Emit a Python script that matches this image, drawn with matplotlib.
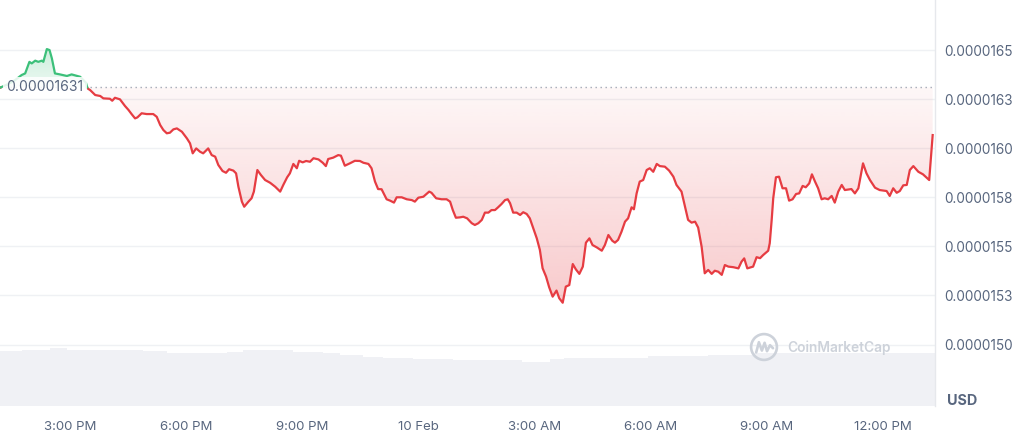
import numpy as np
import matplotlib
matplotlib.use('Agg')
import matplotlib.pyplot as plt
from matplotlib.patches import Polygon, Circle

plt.rcParams['font.family'] = ['Inter', 'DejaVu Sans']

# time in hours counted from 9 Feb 00:00, price in units of 1e-7 USD
hours = [
    13.19, 13.40, 13.58, 13.75, 13.84, 13.95, 14.01, 14.10, 14.18, 14.27,
    14.31, 14.40, 14.47, 14.53, 14.61, 14.74, 14.92, 15.04, 15.26, 15.41,
    15.45, 15.52, 15.65, 15.78, 15.86, 16.03, 16.09, 16.16, 16.29, 16.42,
    16.51, 16.59, 16.68, 16.74, 16.85, 16.98, 17.15, 17.24, 17.33, 17.41,
    17.50, 17.58, 17.67, 17.76, 17.89, 18.02, 18.10, 18.17, 18.26, 18.36,
    18.44, 18.57, 18.66, 18.75, 18.83, 18.94, 19.03, 19.11, 19.22, 19.29,
    19.35, 19.44, 19.50, 19.61, 19.69, 19.75, 19.84, 19.93, 20.04, 20.17,
    20.30, 20.43, 20.51, 20.61, 20.68, 20.77, 20.86, 20.92, 21.01, 21.10,
    21.20, 21.29, 21.42, 21.53, 21.61, 21.67, 21.80, 21.93, 22.00, 22.10,
    22.23, 22.36, 22.49, 22.58, 22.71, 22.79, 22.88, 22.96, 23.05, 23.18,
    23.27, 23.37, 23.44, 23.57, 23.70, 23.83, 23.91, 24.00, 24.13, 24.28,
    24.34, 24.46, 24.60, 24.73, 24.82, 24.89, 24.97, 25.08, 25.16, 25.26,
    25.38, 25.46, 25.55, 25.64, 25.72, 25.81, 25.89, 25.98, 26.06, 26.15,
    26.24, 26.31, 26.37, 26.45, 26.54, 26.63, 26.71, 26.80, 26.88, 26.97,
    27.06, 27.14, 27.21, 27.30, 27.38, 27.47, 27.57, 27.64, 27.73, 27.81,
    27.90, 27.99, 28.07, 28.16, 28.25, 28.33, 28.42, 28.50, 28.61, 28.74,
    28.82, 28.91, 29.01, 29.08, 29.16, 29.25, 29.34, 29.42, 29.51, 29.57,
    29.64, 29.72, 29.81, 29.90, 29.98, 30.07, 30.16, 30.24, 30.37, 30.48,
    30.59, 30.67, 30.80, 30.89, 30.97, 31.06, 31.15, 31.23, 31.32, 31.40,
    31.49, 31.58, 31.66, 31.75, 31.84, 31.92, 32.01, 32.14, 32.27, 32.35,
    32.42, 32.50, 32.65, 32.74, 32.83, 32.91, 33.04, 33.08, 33.13, 33.17,
    33.24, 33.32, 33.41, 33.50, 33.58, 33.67, 33.76, 33.84, 33.93, 34.01,
    34.10, 34.17, 34.25, 34.33, 34.42, 34.50, 34.59, 34.68, 34.76, 34.85,
    34.94, 35.02, 35.19, 35.28, 35.37, 35.49, 35.58, 35.67, 35.80, 35.92,
    36.10, 36.18, 36.27, 36.36, 36.44, 36.53, 36.62, 36.70, 36.79, 36.92,
    37.04, 37.20, 37.29,
]
price_e7 = [
    163.08, 163.27, 163.47, 163.73, 163.81, 164.40, 164.32, 164.46, 164.40, 164.46,
    164.40, 165.05, 165.00, 164.58, 163.81, 163.76, 163.68, 163.76, 163.64, 163.34,
    163.05, 162.96, 162.71, 162.66, 162.54, 162.52, 162.42, 162.57, 162.49, 162.15,
    161.95, 161.74, 161.52, 161.57, 161.78, 161.74, 161.74, 161.60, 161.18, 160.93,
    160.76, 160.79, 160.96, 161.01, 160.84, 160.50, 160.25, 159.74, 159.99, 159.82,
    159.74, 159.99, 159.65, 159.57, 159.15, 158.84, 158.75, 158.93, 158.86, 158.72,
    158.04, 157.28, 157.02, 157.28, 157.45, 157.79, 158.89, 158.64, 158.38, 158.24,
    158.04, 157.79, 158.13, 158.52, 158.72, 159.20, 158.98, 159.36, 159.28, 159.35,
    159.31, 159.49, 159.43, 159.26, 159.09, 159.45, 159.52, 159.65, 159.62, 159.11,
    159.23, 159.36, 159.35, 159.26, 159.20, 158.98, 158.30, 157.92, 157.91, 157.40,
    157.33, 157.23, 157.50, 157.50, 157.40, 157.36, 157.28, 157.48, 157.53, 157.79,
    157.73, 157.45, 157.40, 157.40, 157.28, 156.85, 156.46, 156.48, 156.51, 156.43,
    156.18, 156.09, 156.18, 156.35, 156.72, 156.72, 156.85, 156.85, 156.99, 157.16,
    157.36, 157.40, 157.20, 156.72, 156.72, 156.60, 156.74, 156.65, 156.43, 155.92,
    155.41, 154.82, 153.89, 153.46, 152.92, 152.44, 152.75, 152.36, 152.13, 152.95,
    153.03, 154.10, 153.83, 153.60, 153.97, 155.19, 155.41, 155.07, 154.95, 154.78,
    155.07, 155.58, 155.29, 155.19, 155.33, 155.75, 156.26, 156.43, 156.99, 156.89,
    157.70, 158.30, 158.38, 158.89, 158.98, 158.80, 159.20, 159.09, 159.06, 158.86,
    158.55, 158.13, 157.79, 157.02, 156.35, 156.21, 156.26, 155.96, 154.98, 153.63,
    153.80, 153.60, 153.76, 153.71, 153.55, 154.05, 153.97, 153.94, 153.88, 154.22,
    154.39, 153.88, 153.97, 154.45, 154.40, 154.56, 154.78, 155.16, 156.35, 157.45,
    158.52, 158.55, 157.96, 157.96, 157.33, 157.40, 157.67, 157.70, 158.08, 158.01,
    158.21, 158.67, 158.30, 157.96, 157.40, 157.45, 157.40, 157.57, 157.23, 157.79,
    158.13, 157.87, 157.92, 157.70, 157.96, 159.23, 158.72, 158.38, 157.99, 157.87,
    157.82, 157.57, 157.96, 157.73, 157.82, 158.11, 158.13, 158.89, 159.09, 158.80,
    158.67, 158.38, 160.67,
]
open_price = 0.00001631

# 24h volume (relative, millions USD) as steps between these hours
vol_edges = [13.19, 13.76, 14.48, 14.92, 16.89, 17.51, 19.06, 19.47, 20.76, 21.54,
             21.98, 22.57, 23.09, 23.86, 24.89, 26.68, 27.40, 27.76, 29.93, 31.48,
             32.67, 37.35]
vol_musd = [55.3, 56.3, 57.7, 56.3, 55.3, 53.0, 54.3, 56.0, 54.3, 53.0,
            51.0, 49.3, 48.0, 47.0, 46.0, 44.3, 47.0, 48.3, 50.0, 51.0, 52.7]

ytick_e7 = [150, 152.5, 155, 157.5, 160, 162.5, 165]
ytick_labels = ['0.0000150', '0.0000153', '0.0000155', '0.0000158',
                '0.0000160', '0.0000163', '0.0000165']
xtick_hours = [15, 18, 21, 24, 27, 30, 33, 36]
xtick_labels = ['3:00 PM', '6:00 PM', '9:00 PM', '10 Feb',
                '3:00 AM', '6:00 AM', '9:00 AM', '12:00 PM']

RED = '#e63c42'
GREEN = '#3cc07a'
TXT = '#58667e'

t = np.array(hours)
p = np.array(price_e7) * 1e-7
base = open_price

# add the points where the line crosses the open price so the colours split cleanly
tt, pp = [t[0]], [p[0]]
for i in range(1, len(t)):
    a, b = p[i - 1] - base, p[i] - base
    if a * b < 0:
        f = a / (a - b)
        tt.append(t[i - 1] + f * (t[i] - t[i - 1]))
        pp.append(base)
    tt.append(t[i])
    pp.append(p[i])
tt = np.array(tt)
pp = np.array(pp)

W, H = 1024, 444
fig = plt.figure(figsize=(W / 100, H / 100), dpi=100)
fig.patch.set_facecolor('white')
rect = [0, (H - 406) / H, 935 / W, 406 / H]

# volume in the bottom strip
axv = fig.add_axes([0, (H - 406) / H, 935 / W, 60 / H], zorder=0)
axv.stairs(vol_musd, vol_edges, fill=True, color='#f0f1f5', lw=0)
axv.set_xlim(13.19, 37.35)
axv.set_ylim(0, 60)
axv.axis('off')

ax = fig.add_axes(rect, zorder=1)
ax.patch.set_visible(False)
ax.set_xlim(13.19, 37.35)
ax.set_ylim(146.87e-7, 167.55e-7)

# gradient fills between line and open price
below = np.minimum(pp, base)
above = np.maximum(pp, base)
red_poly = Polygon(np.column_stack([np.r_[tt, tt[::-1]], np.r_[below, np.full(len(tt), base)]]),
                   closed=True, fc='none', ec='none')
grn_poly = Polygon(np.column_stack([np.r_[tt, tt[::-1]], np.r_[above, np.full(len(tt), base)]]),
                   closed=True, fc='none', ec='none')
ax.add_patch(red_poly)
ax.add_patch(grn_poly)

grad = np.zeros((256, 1, 4))
grad[:, 0, :3] = matplotlib.colors.to_rgb(RED)
grad[:, 0, 3] = np.linspace(0.04, 0.27, 256)
im = ax.imshow(grad, extent=[tt[0], tt[-1], pp.min(), base], aspect='auto',
               origin='upper', zorder=1, interpolation='bilinear')
im.set_clip_path(red_poly)

grad_g = np.zeros((256, 1, 4))
grad_g[:, 0, :3] = matplotlib.colors.to_rgb(GREEN)
grad_g[:, 0, 3] = np.linspace(0.26, 0.10, 256)
im2 = ax.imshow(grad_g, extent=[tt[0], tt[-1], base, pp.max()], aspect='auto',
                origin='upper', zorder=1, interpolation='bilinear')
im2.set_clip_path(grn_poly)

ax.plot(tt, np.where(pp <= base, pp, np.nan), color=RED, lw=1.6, zorder=3,
        solid_joinstyle='round')
ax.plot(tt, np.where(pp >= base, pp, np.nan), color=GREEN, lw=1.6, zorder=3,
        solid_joinstyle='round')

ax.axhline(base, color='#a3a9b6', ls=(0, (1, 2.6)), lw=1, zorder=2)
ax.text(13.36, base, '0.00001631', ha='left', va='center', fontsize=10, color=TXT,
        zorder=5, bbox=dict(boxstyle='square,pad=0.25', fc='white', ec='none', alpha=0.85))

ax.set_yticks(np.array(ytick_e7) * 1e-7)
ax.set_yticklabels(ytick_labels)
ax.yaxis.tick_right()
ax.set_xticks(xtick_hours)
ax.set_xticklabels(xtick_labels)
ax.tick_params(axis='y', length=0, pad=7, labelsize=9.8, labelcolor=TXT)
ax.tick_params(axis='x', length=0, pad=11, labelsize=9.5, labelcolor=TXT)
ax.grid(axis='y', color='#eff1f4', lw=1)
ax.set_axisbelow(True)
for side in ['top', 'left', 'bottom']:
    ax.spines[side].set_visible(False)
ax.spines['right'].set_color('#e6e8ec')
ax.spines['right'].set_linewidth(1)

fig.text(947 / W, 1 - 401 / H, 'USD', fontsize=10.3, fontweight='bold', color=TXT, va='center')

# watermark
wm = '#cdd2da'
fig.text(787 / W, 1 - 348 / H, 'CoinMarketCap', fontsize=9.9, fontweight='semibold',
         color=wm, va='center')
axl = fig.add_axes([749 / W, 1 - 362 / H, 30 / W, 30 / H], zorder=2)
axl.set_xlim(0, 1)
axl.set_ylim(0, 1)
axl.set_aspect('equal')
axl.axis('off')
axl.add_patch(Circle((0.5, 0.5), 0.43, fill=False, ec=wm, lw=1.9))
axl.plot([0.24, 0.33, 0.43, 0.52, 0.60, 0.70, 0.80], [0.32, 0.66, 0.38, 0.64, 0.36, 0.56, 0.46],
         color=wm, lw=1.9, solid_capstyle='round', solid_joinstyle='round')

fig.savefig('out.png', dpi=100)
